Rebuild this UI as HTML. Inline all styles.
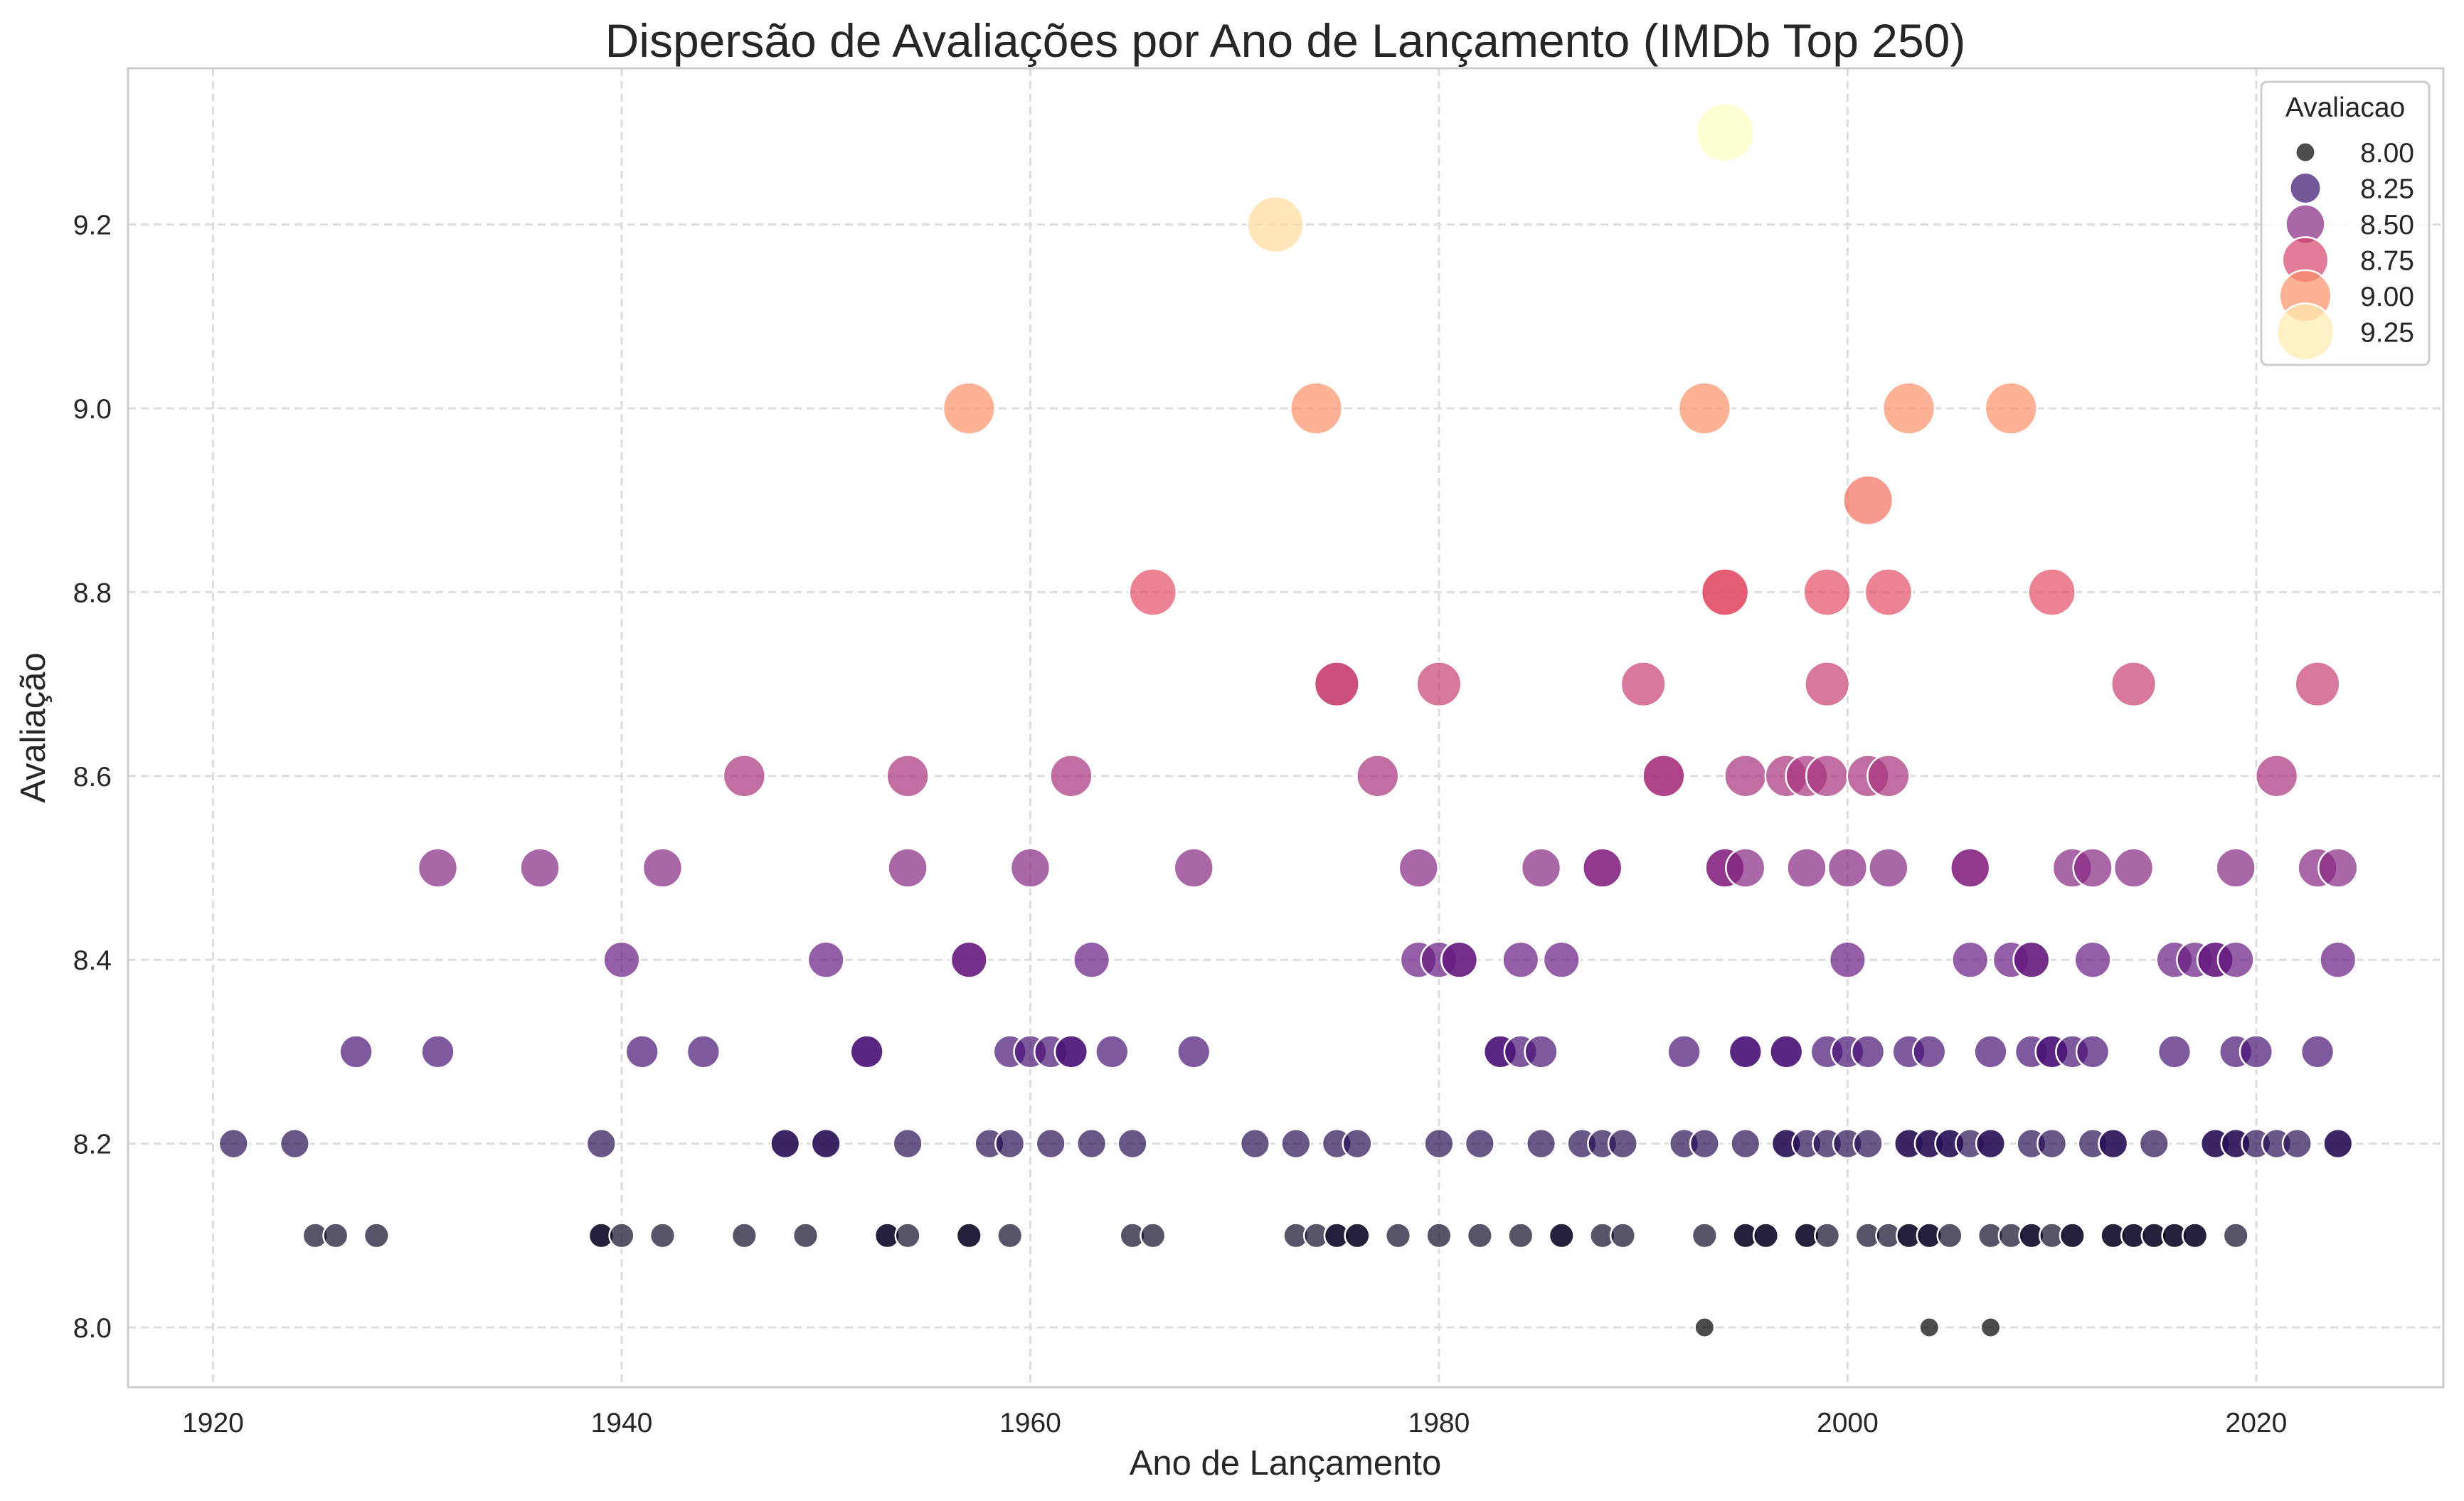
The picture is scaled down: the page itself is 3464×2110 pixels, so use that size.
<!DOCTYPE html>
<html><head><meta charset="utf-8"><style>
html,body{margin:0;padding:0;background:#fff;}
svg{display:block;font-family:"Liberation Sans",sans-serif;}
</style></head><body>
<svg id="chart" width="3464" height="2110" viewBox="0 0 3464 2110" xmlns="http://www.w3.org/2000/svg">
<text x="1807" y="80" font-size="66" text-anchor="middle" fill="#262626">Dispersão de Avaliações por Ano de Lançamento (IMDb Top 250)</text>
<text x="1807" y="2073" font-size="49" text-anchor="middle" fill="#262626">Ano de Lançamento</text>
<text x="0" y="0" font-size="49" text-anchor="middle" fill="#262626" transform="translate(63,1023) rotate(-90)">Avaliação</text>
<g id="grid"></g>
<g id="ticks"></g>
<g id="points"></g>
<rect x="180" y="96" width="3255" height="1854" fill="none" stroke="#cccccc" stroke-width="3"/>
<g id="legend">
<rect x="3179" y="115" width="236" height="398" rx="8" fill="#fff" fill-opacity="0.8" stroke="#cccccc" stroke-width="3"/>
<text x="3297" y="164" font-size="39" text-anchor="middle" fill="#262626">Avaliacao</text>
</g>
</svg>
<script>
const xTicks = [1920, 1940, 1960, 1980, 2000, 2020];
const yTicks = [8.0, 8.2, 8.4, 8.6, 8.8, 9.0, 9.2];
const legendValues = [8.00, 8.25, 8.50, 8.75, 9.00, 9.25];
const rating93 = [1994];
const rating92 = [1972];
const rating90 = [1957, 1974, 1993, 2003, 2008];
const rating89 = [2001];
const rating88 = [1966, 1994, 1994, 1999, 2002, 2010];
const rating87 = [1975, 1975, 1980, 1990, 1999, 2014, 2023];
const rating86 = [1946, 1954, 1962, 1977, 1991, 1991, 1995, 1997, 1998, 1999, 2001, 2002, 2021];
const rating85 = [1931, 1936, 1942, 1954, 1960, 1968, 1979, 1985, 1988, 1988, 1994, 1994, 1995, 1998, 2000, 2002, 2006, 2006, 2011, 2012, 2014, 2019, 2023, 2024];
const rating84 = [1940, 1950, 1957, 1957, 1963, 1979, 1980, 1981, 1981, 1984, 1986, 2000, 2006, 2008, 2009, 2009, 2012, 2016, 2017, 2018, 2018, 2019, 2024];
const rating83 = [1927, 1931, 1941, 1944, 1952, 1952, 1959, 1960, 1961, 1962, 1962, 1964, 1968, 1983, 1983, 1984, 1985, 1992, 1995, 1995, 1997, 1997, 1999, 2000, 2001, 2003, 2004, 2007, 2009, 2010, 2010, 2011, 2012, 2016, 2019, 2020, 2023];
const rating82 = [1921, 1924, 1939, 1948, 1948, 1950, 1950, 1954, 1958, 1959, 1961, 1963, 1965, 1971, 1973, 1975, 1976, 1980, 1982, 1985, 1987, 1988, 1989, 1992, 1993, 1995, 1997, 1997, 1998, 1999, 2000, 2001, 2003, 2003, 2004, 2004, 2005, 2005, 2006, 2007, 2007, 2009, 2010, 2012, 2013, 2013, 2015, 2018, 2018, 2019, 2019, 2020, 2021, 2022, 2024, 2024];
const rating81 = [1925, 1926, 1928, 1939, 1939, 1940, 1942, 1946, 1949, 1953, 1953, 1954, 1957, 1957, 1959, 1965, 1966, 1973, 1974, 1975, 1975, 1976, 1976, 1978, 1980, 1982, 1984, 1986, 1986, 1988, 1989, 1993, 1995, 1995, 1996, 1996, 1998, 1998, 1999, 2001, 2002, 2003, 2003, 2004, 2004, 2005, 2007, 2008, 2009, 2009, 2010, 2011, 2011, 2013, 2013, 2014, 2014, 2015, 2015, 2016, 2016, 2017, 2017, 2019];
const rating80 = [1993, 2004, 2007];
const seriesRatings = [9.3, 9.2, 9.0, 8.9, 8.8, 8.7, 8.6, 8.5, 8.4, 8.3, 8.2, 8.1, 8.0];
const seriesYears = [rating93, rating92, rating90, rating89, rating88, rating87, rating86, rating85, rating84, rating83, rating82, rating81, rating80];

const NS = 'http://www.w3.org/2000/svg';
const L = 180, R = 3435, T = 96, B = 1950;
const xMin = 1915.84, xMax = 2029.16, yMin = 7.935, yMax = 9.370;
function xs(v){ return L + (v - xMin) / (xMax - xMin) * (R - L); }
function ys(v){ return B - (v - yMin) / (yMax - yMin) * (B - T); }
function rs(v){ return Math.sqrt(188 + Math.max(0, v - 8) * 1130); }
const magma = [[0,0,4],[20,14,54],[59,15,112],[100,26,128],[140,41,129],[183,55,121],[222,73,104],[247,112,92],[254,159,109],[254,207,146],[252,253,191]];
function color(v){
  let t = (v - 8.0) / 1.3; t = Math.max(0, Math.min(1, t));
  const p = t * 10, i = Math.min(9, Math.floor(p)), f = p - i;
  const a = magma[i], b = magma[i+1];
  return 'rgb(' + [0,1,2].map(k => Math.round(a[k] + (b[k]-a[k]) * f)).join(',') + ')';
}
function el(tag, attrs, parent){ const e = document.createElementNS(NS, tag); for (const k in attrs) e.setAttribute(k, attrs[k]); parent.appendChild(e); return e; }

const grid = document.getElementById('grid');
const ticks = document.getElementById('ticks');
xTicks.forEach(v => {
  const g = el('line', {x1: xs(v), x2: xs(v), y1: T, y2: B, stroke: '#dddddd', 'stroke-width': 3, 'stroke-dasharray': '11,7'}, grid);
  
  
  const t = el('text', {x: xs(v), y: 2013, 'font-size': 39, 'text-anchor': 'middle', fill: '#262626'}, ticks);
  t.textContent = v;
  
  
});
yTicks.forEach(v => {
  const g = el('line', {x1: L, x2: R, y1: ys(v), y2: ys(v), stroke: '#dddddd', 'stroke-width': 3, 'stroke-dasharray': '11,7'}, grid);
  
  
  const t = el('text', {x: 157, y: ys(v) + 14, 'font-size': 39, 'text-anchor': 'end', fill: '#262626'}, ticks);
  t.textContent = v.toFixed(1);
  
  
});

const pts = document.getElementById('points');
seriesRatings.forEach((r, si) => {
  seriesYears[si].forEach(yr => {
    const c = el('circle', {cx: xs(yr), cy: ys(r), r: rs(r), fill: color(r), 'fill-opacity': 0.7, stroke: '#ffffff', 'stroke-width': 2.5}, pts);
    
    
  });
});

const leg = document.getElementById('legend');
legendValues.forEach((v, i) => {
  const cy = 214 + i * 50.5;
  const c = el('circle', {cx: 3241, cy: cy, r: rs(v), fill: color(v), 'fill-opacity': 0.7, stroke: '#ffffff', 'stroke-width': 2.5}, leg);
  
  
  const t = el('text', {x: 3394, y: cy + 14, 'font-size': 39, 'text-anchor': 'end', fill: '#262626'}, leg);
  t.textContent = v.toFixed(2);
  
  
});
</script>
</body></html>
